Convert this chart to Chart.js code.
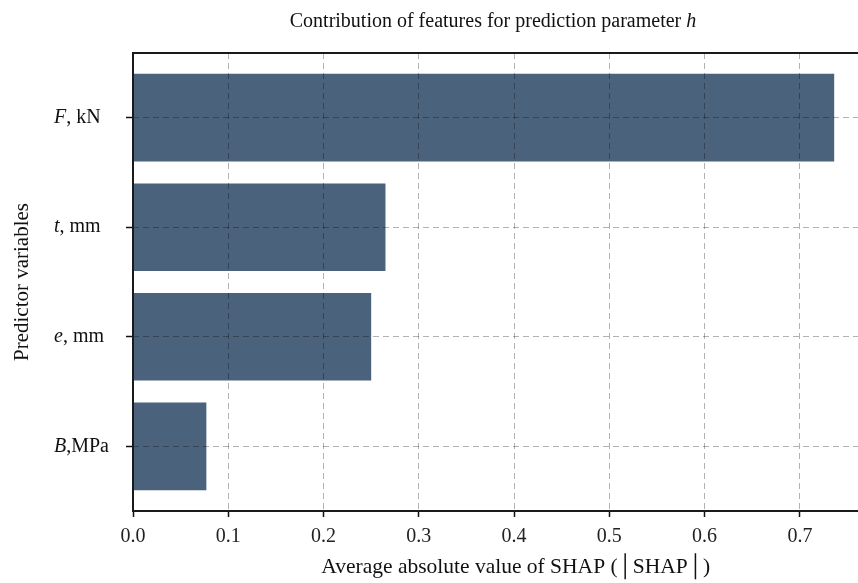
<!DOCTYPE html>
<html>
<head>
<meta charset="utf-8">
<script src="https://cdn.jsdelivr.net/npm/chart.js@4"></script>
<style>
  body { margin: 0; background: #fff; overflow: hidden; }
  #wrap { position: relative; width: 858px; height: 583px; overflow: hidden; }
  #box { position: absolute; left: 0; top: 0; width: 919px; height: 583px; }
  #title { position: absolute; top: 9px; left: 493px; transform: translateX(-50%); white-space: nowrap;
           font: 20px 'Liberation Serif', serif; color: #111; }
</style>
</head>
<body>
<div id="wrap">
  <div id="box"><canvas id="chart"></canvas></div>
  <div id="title">Contribution of features for prediction parameter <i>h</i></div>
</div>
<script>
// ========== DATA ==========
const symbols = ['F', 't', 'e', 'B'];
const units = [', kN', ', mm', ', mm', ',MPa'];
const shapValues = [0.736, 0.265, 0.250, 0.077];
const xMax = 0.8035;
const xTitle = 'Average absolute value of SHAP (\u2502SHAP\u2502)';
const yTitle = 'Predictor variables';

const serif = "'Liberation Serif', 'Times New Roman', serif";
const barColor = '#4b627c';
const gridColor = 'rgba(0,0,0,0.3)';

// y labels with italic symbol, drawn at tick positions
const varLabels = {
  id: 'varLabels',
  afterDraw(chart) {
    const ctx = chart.ctx, y = chart.scales.y;
    ctx.save();
    ctx.fillStyle = '#111';
    ctx.textBaseline = 'middle';
    ctx.textAlign = 'left';
    symbols.forEach((s, i) => {
      const py = y.getPixelForValue(i);
      ctx.font = 'italic 20px ' + serif;
      ctx.fillText(s, 54, py);
      const w = ctx.measureText(s).width;
      ctx.font = '20px ' + serif;
      ctx.fillText(units[i], 54 + w, py);
    });
    ctx.restore();
  }
};

// box frame round the plot
const frame = {
  id: 'frame',
  afterDraw(chart) {
    const { ctx, chartArea: a } = chart;
    ctx.save();
    ctx.strokeStyle = '#1a1a1a';
    ctx.lineWidth = 2;
    ctx.strokeRect(a.left, a.top, a.right - a.left, a.bottom - a.top);
    ctx.restore();
  }
};

new Chart(document.getElementById('chart'), {
  type: 'bar',
  data: {
    datasets: [{
      data: shapValues.map((v, i) => ({ x: v, y: i })),
      backgroundColor: barColor,
      borderWidth: 0,
      categoryPercentage: 0.8,
      barPercentage: 1.0
    }]
  },
  options: {
    indexAxis: 'y',
    responsive: true,
    maintainAspectRatio: false,
    animation: false,
    layout: { padding: { left: 4, right: 20, top: 53, bottom: 0 } },
    plugins: { legend: { display: false }, tooltip: { enabled: false } },
    scales: {
      x: {
        type: 'linear', position: 'bottom', min: 0, max: xMax,
        afterFit: s => { s.height = 72; },
        border: { display: false, dash: [6, 4] },
        grid: { z: 1, color: gridColor, lineWidth: 1, tickLength: 6, tickColor: '#111', tickWidth: 1.5, tickBorderDash: [] },
        ticks: { stepSize: 0.1, autoSkip: false, maxRotation: 0, padding: 8, color: '#222',
                 font: { family: serif, size: 20 }, callback: v => v.toFixed(1) },
        title: { display: true, text: xTitle, color: '#111', font: { family: serif, size: 21.5 }, padding: { top: 0, bottom: 3 } }
      },
      y: {
        type: 'linear', position: 'left', min: -0.59, max: 3.59, reverse: true, offset: false,
        afterFit: s => { s.width = 129; },
        afterBuildTicks: s => { s.ticks = symbols.map((_, i) => ({ value: i })); },
        border: { display: false, dash: [6, 4] },
        grid: { z: 1, offset: false, color: gridColor, lineWidth: 1, tickLength: 7, tickColor: '#111', tickWidth: 1.5, tickBorderDash: [] },
        ticks: { display: false },
        title: { display: true, text: yTitle, color: '#111', font: { family: serif, size: 21 }, padding: { top: 6, bottom: 0 } }
      }
    }
  },
  plugins: [varLabels, frame]
});
</script>
</body>
</html>
